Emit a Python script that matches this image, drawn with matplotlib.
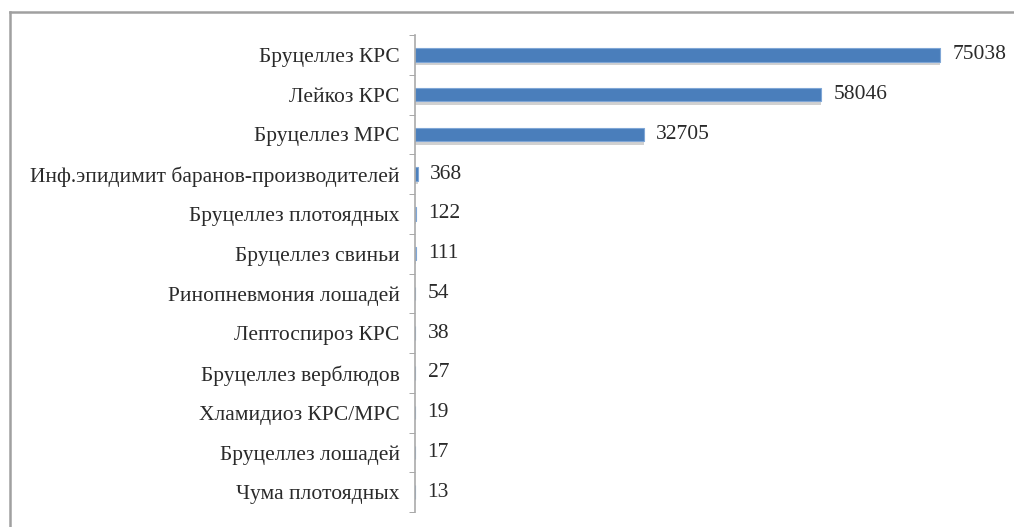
import numpy as np
import matplotlib.pyplot as plt
from matplotlib.lines import Line2D

diseases = ['Бруцеллез КРС', 'Лейкоз КРС', 'Бруцеллез МРС',
            'Инф.эпидимит баранов-производителей', 'Бруцеллез плотоядных',
            'Бруцеллез свиньи', 'Ринопневмония лошадей', 'Лептоспироз КРС',
            'Бруцеллез верблюдов', 'Хламидиоз КРС/МРС', 'Бруцеллез лошадей',
            'Чума плотоядных']
cases = [75038, 58046, 32705, 368, 122, 111, 54, 38, 27, 19, 17, 13]

plt.rcParams['font.family'] = ['Liberation Serif', 'DejaVu Serif']

W, H = 1014, 527
fig = plt.figure(figsize=(W / 100, H / 100), dpi=100)
ax = fig.add_axes([415 / W, (H - 512) / H, (1004 - 415) / W, (512 - 35) / H])

y = np.arange(len(diseases))
# shadow under the bars
ax.barh(y + 0.08, cases, height=0.36, color='#9a9a9a', alpha=0.45, left=0)
ax.barh(y, cases, height=0.34, color='#4a7ebb', edgecolor='#7fa6d6', linewidth=0.8)

ax.set_xlim(0, 84190)
ax.set_ylim(len(diseases) - 0.5, -0.5)

fs = 15.5
for yi, v in zip(y, cases):
    ax.annotate(str(v), (v, yi), xytext=(9, 0), textcoords='offset points',
                va='center', ha='left', fontsize=fs, color='#2a2a2a')

ax.set_yticks(y)
ax.set_yticklabels(diseases, fontsize=fs, color='#2a2a2a')
ax.set_yticks(np.arange(len(diseases) + 1) - 0.5, minor=True)
ax.tick_params(axis='y', which='major', length=0, pad=11)
ax.tick_params(axis='y', which='minor', length=4, color='#999999', direction='out')
ax.set_xticks([])

for s in ['top', 'right', 'bottom']:
    ax.spines[s].set_visible(False)
ax.spines['left'].set_color('#aaaaaa')
ax.spines['left'].set_linewidth(1.2)

# outer frame (top and left edges visible)
fig.add_artist(Line2D([10 / W, 10 / W], [0, (H - 12) / H], color='#a0a0a0', lw=1.8,
                      transform=fig.transFigure))
fig.add_artist(Line2D([10 / W, 1], [(H - 12) / H, (H - 12) / H], color='#a0a0a0', lw=1.8,
                      transform=fig.transFigure))

fig.savefig('out.png', dpi=100)
